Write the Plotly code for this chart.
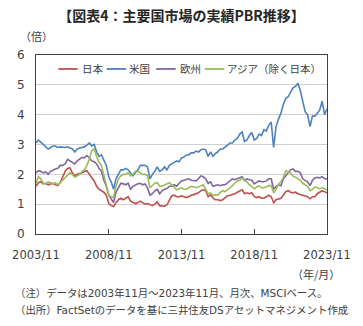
import pandas as pd
import plotly.graph_objects as go

# Bi-monthly observation dates (2003/11 - 2023/11)
dates = pd.date_range("2003-11-01", "2023-11-01", freq="2MS")

series_names = ["日本", "米国", "欧州", "アジア（除く日本）"]
series_colors = ["#C0504D", "#4F81BD", "#8064A2", "#9BBB59"]

japan = [1.60,
 1.72,1.75,1.68,1.70,1.65,1.68,
 1.70,1.65,1.62,1.72,1.90,2.10,
 2.20,2.22,2.05,1.95,2.00,2.02,
 2.05,2.10,2.12,2.00,1.90,1.78,
 1.60,1.50,1.45,1.40,1.30,1.02,
 0.95,0.92,1.05,1.15,1.20,1.15,
 1.20,1.25,1.10,1.05,1.02,1.05,
 1.10,1.05,1.00,1.02,0.98,0.95,
 1.00,1.08,0.95,0.93,0.93,0.98,
 1.15,1.28,1.30,1.25,1.25,1.28,
 1.25,1.22,1.25,1.30,1.32,1.35,
 1.38,1.45,1.48,1.45,1.25,1.32,
 1.20,1.15,1.15,1.12,1.15,1.22,
 1.28,1.30,1.32,1.35,1.40,1.45,
 1.48,1.35,1.38,1.35,1.38,1.25,
 1.22,1.25,1.20,1.20,1.25,1.30,
 1.25,1.05,1.15,1.18,1.20,1.30,
 1.42,1.45,1.40,1.38,1.40,1.35,
 1.32,1.30,1.28,1.25,1.18,1.25,
 1.25,1.35,1.40,1.45,1.42,1.38]

usa = [3.05,
 3.15,3.08,3.00,2.90,2.85,2.90,
 2.95,2.95,2.90,2.92,2.90,2.90,
 2.92,2.88,2.85,2.75,2.85,2.88,
 2.90,2.92,2.98,3.05,2.95,3.00,
 2.75,2.60,2.65,2.50,2.30,1.90,
 1.75,1.50,1.85,2.00,2.15,2.15,
 2.20,2.15,2.05,1.95,2.05,2.15,
 2.30,2.30,2.30,2.25,1.85,2.00,
 2.10,2.25,2.10,2.15,2.25,2.15,
 2.30,2.35,2.40,2.45,2.42,2.55,
 2.58,2.65,2.65,2.72,2.72,2.78,
 2.75,2.82,2.85,2.82,2.60,2.75,
 2.60,2.70,2.75,2.85,2.85,2.90,
 2.98,3.05,3.05,3.15,3.20,3.35,
 3.42,3.10,3.15,3.30,3.40,3.15,
 3.20,3.35,3.30,3.50,3.45,3.65,
 3.75,2.90,3.60,3.85,4.05,4.35,
 4.55,4.60,4.75,4.90,4.95,5.05,
 4.80,4.50,4.10,4.00,3.60,3.95,
 3.95,4.05,4.15,4.45,4.00,4.20]

europe = [2.05,
 2.12,2.10,2.05,2.08,2.00,2.10,
 2.15,2.18,2.20,2.30,2.30,2.35,
 2.50,2.45,2.40,2.35,2.45,2.50,
 2.57,2.55,2.63,2.55,2.45,2.42,
 2.35,2.20,2.10,1.80,1.60,1.30,
 1.15,1.05,1.40,1.55,1.70,1.68,
 1.65,1.70,1.50,1.60,1.65,1.68,
 1.70,1.65,1.68,1.55,1.30,1.35,
 1.45,1.50,1.35,1.45,1.50,1.52,
 1.60,1.60,1.65,1.60,1.70,1.78,
 1.80,1.82,1.85,1.80,1.80,1.78,
 1.85,1.95,1.92,1.85,1.70,1.75,
 1.60,1.62,1.65,1.62,1.65,1.65,
 1.72,1.80,1.85,1.82,1.85,1.88,
 1.92,1.80,1.85,1.82,1.80,1.68,
 1.72,1.78,1.75,1.75,1.78,1.85,
 1.85,1.50,1.60,1.65,1.62,1.85,
 1.95,2.05,2.15,2.18,2.10,2.10,
 2.05,1.85,1.80,1.75,1.62,1.80,
 1.88,1.90,1.88,1.92,1.85,1.85]

asia = [1.70,
 1.92,1.85,1.70,1.68,1.75,1.72,
 1.68,1.72,1.65,1.72,1.80,1.90,
 1.95,2.05,2.00,1.90,1.95,2.00,
 2.10,2.15,2.30,2.50,2.80,2.85,
 2.60,2.40,2.30,1.95,1.65,1.30,
 1.25,1.22,1.60,1.85,1.95,2.00,
 2.00,2.05,1.95,2.00,2.10,2.10,
 2.05,2.00,2.00,1.95,1.55,1.62,
 1.70,1.72,1.60,1.60,1.65,1.68,
 1.72,1.65,1.55,1.48,1.52,1.55,
 1.50,1.50,1.55,1.60,1.58,1.55,
 1.58,1.62,1.65,1.50,1.35,1.38,
 1.28,1.32,1.30,1.40,1.45,1.42,
 1.48,1.55,1.62,1.70,1.78,1.80,
 1.88,1.80,1.75,1.65,1.60,1.52,
 1.58,1.62,1.55,1.55,1.58,1.62,
 1.62,1.38,1.50,1.68,1.75,1.90,
 2.12,2.08,2.05,1.95,1.90,1.85,
 1.80,1.70,1.65,1.60,1.45,1.50,
 1.58,1.55,1.52,1.55,1.50,1.48]

tick_dates = ["2003-11-01", "2008-11-01", "2013-11-01", "2018-11-01", "2023-11-01"]
tick_labels = ["2003/11", "2008/11", "2013/11", "2018/11", "2023/11"]
y_ticks = [0, 1, 2, 3, 4, 5, 6]

FONT = "DejaVu Sans, Noto Sans CJK JP, sans-serif"
TXT = "#404040"

fig = go.Figure()
for name, vals, col in zip(series_names, [japan, usa, europe, asia], series_colors):
    fig.add_trace(go.Scatter(x=dates, y=vals, mode="lines", name=name,
                             line=dict(color=col, width=1.6), showlegend=False))

# Manual compact legend (line sample + label), positioned in paper coords
legend_items = [
    (0.077, 0.143, 0.150),
    (0.243, 0.310, 0.313),
    (0.413, 0.480, 0.487),
    (0.580, 0.647, 0.650),
]
leg_y = 0.922
for (x0, x1, xt), name, col in zip(legend_items, series_names, series_colors):
    fig.add_shape(type="line", xref="paper", yref="paper", x0=x0, x1=x1,
                  y0=leg_y, y1=leg_y, line=dict(color=col, width=1.8))
    fig.add_annotation(text=name, xref="paper", yref="paper", x=xt, y=leg_y,
                       xanchor="left", yanchor="middle", showarrow=False,
                       font=dict(family=FONT, size=10.5, color=TXT))

fig.update_layout(
    width=363, height=326,
    margin=dict(l=34, r=29, t=55, b=92),
    paper_bgcolor="white", plot_bgcolor="white",
    font=dict(family=FONT, color=TXT, size=11),
    title=dict(text="<b>【図表4：主要国市場の実績PBR推移】</b>",
               x=0.5, xanchor="center", y=0.951, yanchor="middle",
               font=dict(family="Noto Sans CJK JP", size=14, color="#262626")),
    xaxis=dict(type="date", range=["2003-11-01", "2023-11-01"],
               tickvals=tick_dates, ticktext=tick_labels,
               ticks="inside", ticklen=5, tickcolor="#404040",
               showgrid=False, showline=True, linecolor="#404040", linewidth=1,
               mirror=True, tickfont=dict(size=11.5, color=TXT, family=FONT),
               zeroline=False, ticklabelstandoff=10),
    yaxis=dict(range=[0, 6], tickvals=y_ticks, showgrid=True,
               gridcolor="#D0D0D0", gridwidth=1, showline=True,
               linecolor="#404040", linewidth=1, mirror=True, ticks="",
               tickfont=dict(size=12, color=TXT, family=FONT), zeroline=False,
               ticklabelstandoff=8),
)

fig.add_annotation(text="（倍）", xref="paper", yref="paper", x=-0.063, y=1.106,
                   xanchor="left", yanchor="middle", showarrow=False,
                   font=dict(family="Noto Sans CJK JP", size=11, color=TXT))
fig.add_annotation(text="（年/月）", xref="paper", yref="paper", x=1.05, y=-0.223,
                   xanchor="right", yanchor="middle", showarrow=False,
                   font=dict(family="Noto Sans CJK JP", size=11, color=TXT))
fig.add_annotation(text="（注）データは2003年11月～2023年11月、月次、MSCIベース。",
                   xref="paper", yref="paper", x=-0.08, y=-0.33,
                   xanchor="left", yanchor="middle", showarrow=False,
                   font=dict(family=FONT, size=10.4, color=TXT))
fig.add_annotation(text="（出所）FactSetのデータを基に三井住友DSアセットマネジメント作成",
                   xref="paper", yref="paper", x=-0.08, y=-0.425,
                   xanchor="left", yanchor="middle", showarrow=False,
                   font=dict(family=FONT, size=10.4, color=TXT))

fig.write_html("out.html")
